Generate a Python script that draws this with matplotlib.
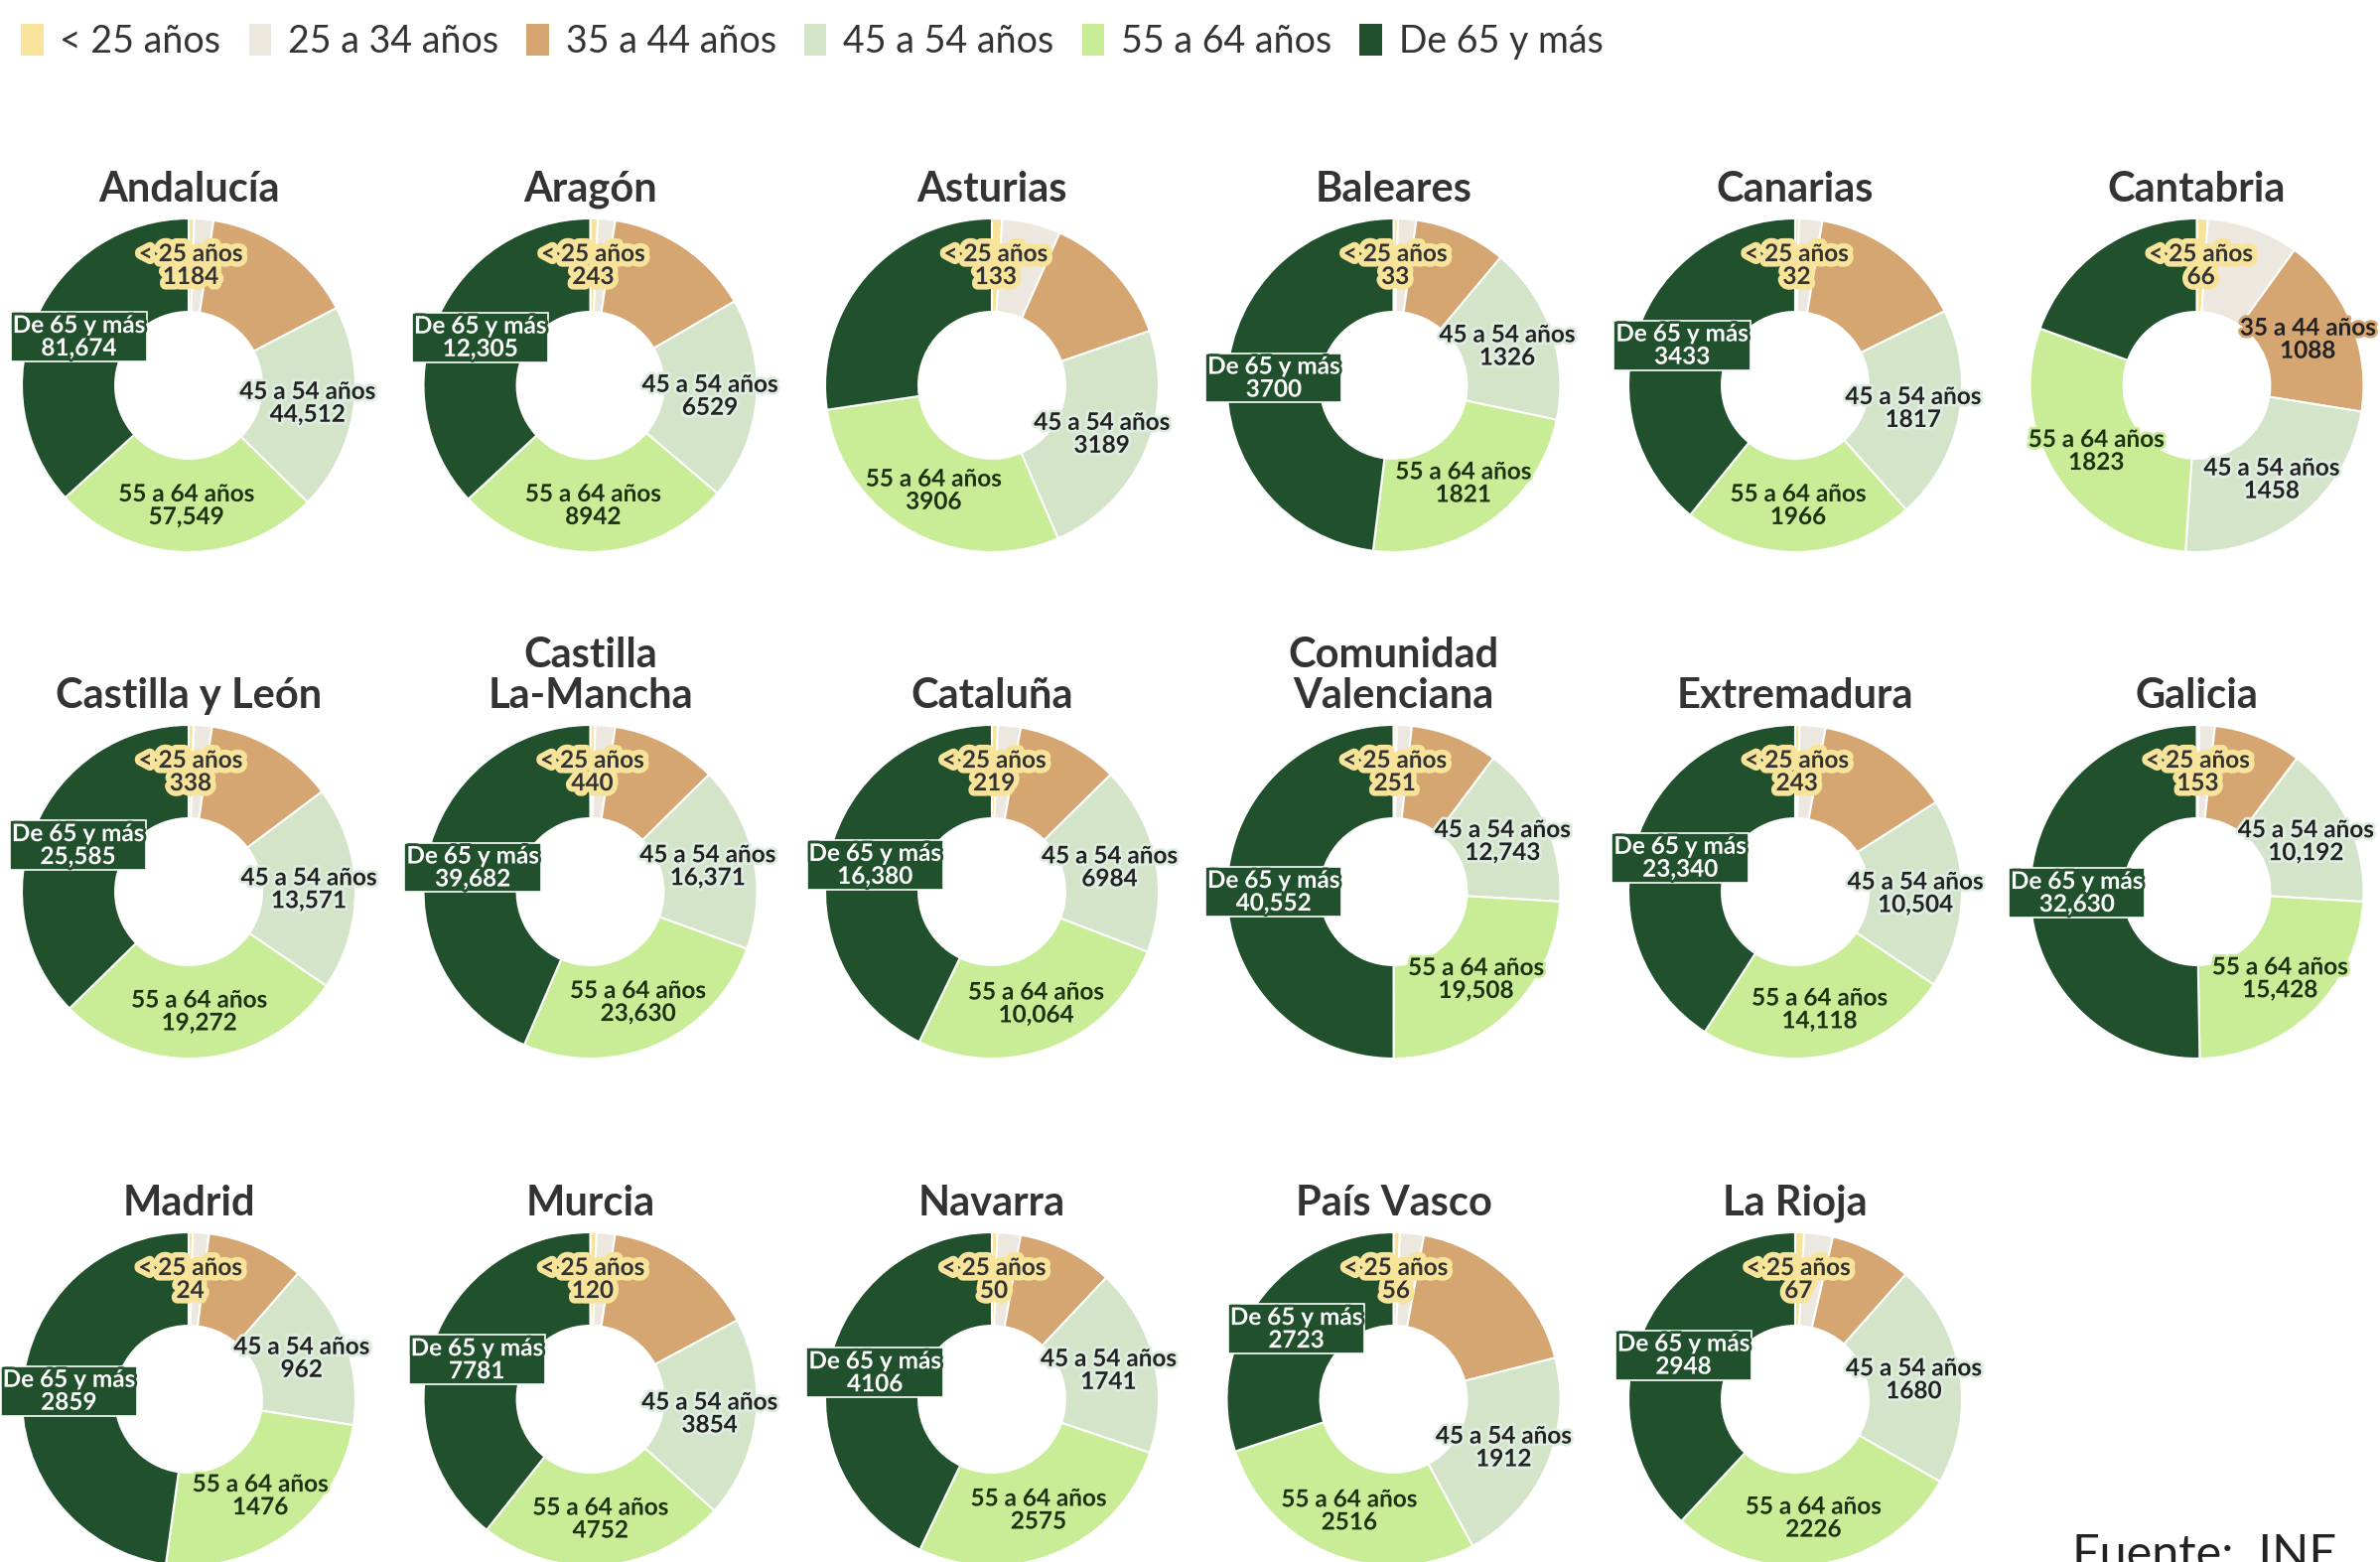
import matplotlib.pyplot as plt
from matplotlib.patches import Patch
import matplotlib.patheffects as pe
import numpy as np

plt.rcParams['font.family'] = ['Lato', 'DejaVu Sans']

W, H = 2397, 1573

# grupos de edad y colores
grupos = ['< 25 años', '25 a 34 años', '35 a 44 años', '45 a 54 años', '55 a 64 años', 'De 65 y más']
colores = ['#f7e49a', '#ece7df', '#d5a672', '#d3e4c9', '#c9ec97', '#21502d']

regiones = ['Andalucía', 'Aragón', 'Asturias', 'Baleares', 'Canarias', 'Cantabria',
            'Castilla y León', 'Castilla\nLa-Mancha', 'Cataluña', 'Comunidad\nValenciana',
            'Extremadura', 'Galicia',
            'Madrid', 'Murcia', 'Navarra', 'País Vasco', 'La Rioja']

menos_25 = [1184, 243, 133, 33, 32, 66, 338, 440, 219, 251, 243, 153, 24, 120, 50, 56, 67]
de_25_34 = [4136, 555, 760, 135, 197, 550, 1200, 1747, 840, 1170, 1427, 975, 93, 352, 215, 209, 215]
de_35_44 = [33205, 4735, 1750, 687, 1320, 1088, 8572, 9310, 3764, 6869, 7463, 5522, 565, 2924, 886, 1638, 613]
de_45_54 = [44512, 6529, 3189, 1326, 1817, 1458, 13571, 16371, 6984, 12743, 10504, 10192, 962, 3854, 1741, 1912, 1680]
de_55_64 = [57549, 8942, 3906, 1821, 1966, 1823, 19272, 23630, 10064, 19508, 14118, 15428, 1476, 4752, 2575, 2516, 2226]
mas_65 = [81674, 12305, 3666, 3700, 3433, 1205, 25585, 39682, 16380, 40552, 23340, 32630, 2859, 7781, 4106, 2723, 2948]

# etiquetas que se ven en cada dona
ver_35 = [False] * 5 + [True] + [False] * 11
ver_65 = [True, True, False, True, True, False] + [True] * 11


def fmt(v):
    return f'{v:,}' if v >= 10000 else str(v)


# estilo de cada etiqueta: (color texto, color halo, grosor halo)
estilo = {
    0: ('#333333', '#f7e49a', 8),
    2: ('#222222', '#d5a672', 4),
    3: ('#222222', '#dfece0', 4),
    4: ('#1c3311', '#c9ec97', 4),
    5: ('white', '#21502d', 4),
}

fig = plt.figure(figsize=(W / 100, H / 100), dpi=100)

col_x = [190 + 404.5 * i for i in range(6)]
fila_y = [388, 898, 1409]
R = 168
half = 205

for i, reg in enumerate(regiones):
    fila, col = divmod(i, 6)
    cx, cy = col_x[col], fila_y[fila]
    ax = fig.add_axes([(cx - half) / W, 1 - (cy + half) / H, 2 * half / W, 2 * half / H])
    vals = [menos_25[i], de_25_34[i], de_35_44[i], de_45_54[i], de_55_64[i], mas_65[i]]
    ax.pie(vals, colors=colores, startangle=90, counterclock=False, radius=1,
           wedgeprops=dict(width=0.56, edgecolor='white', linewidth=1.5))
    ax.set_xlim(-half / R, half / R)
    ax.set_ylim(-half / R, half / R)
    ax.set_aspect('equal')
    ax.axis('off')

    total = sum(vals)
    acum = np.cumsum([0] + vals[:-1])
    mostrar = [0, 3, 4]
    if ver_35[i]:
        mostrar.append(2)
    if ver_65[i]:
        mostrar.append(5)
    for k in mostrar:
        ang = np.radians((acum[k] + vals[k] / 2) / total * 360)
        x, y = 0.72 * np.sin(ang), 0.72 * np.cos(ang)
        c_txt, c_halo, lw = estilo[k]
        kw = {}
        if k == 5:
            kw['bbox'] = dict(boxstyle='square,pad=0.08', fc='#21502d', ec='white', lw=1.2)
        ax.text(x, y, f'{grupos[k]}\n{fmt(vals[k])}', ha='center', va='center',
                fontsize=17.5, fontweight='bold', color=c_txt, linespacing=1.0,
                path_effects=[pe.withStroke(linewidth=lw, foreground=c_halo)], **kw)

    fig.text(cx / W, 1 - (cy - R - 10) / H, reg, ha='center', va='bottom',
             fontsize=30, fontweight='bold', color='#333333', linespacing=1.1)

handles = [Patch(facecolor=c, edgecolor='none') for c in colores]
fig.legend(handles, grupos, loc='upper left', bbox_to_anchor=(21 / W, 1 - 24 / H),
           ncol=6, frameon=False, fontsize=27, handlelength=0.6, handleheight=0.95,
           handletextpad=0.45, columnspacing=0.75, borderaxespad=0, borderpad=0,
           labelcolor='#333333')

fig.text(2087 / W, 1 - 1544 / H, 'Fuente:  INE', ha='left', va='top', fontsize=35,
         color='#222222')

fig.savefig('out.png', dpi=100, facecolor='white')
